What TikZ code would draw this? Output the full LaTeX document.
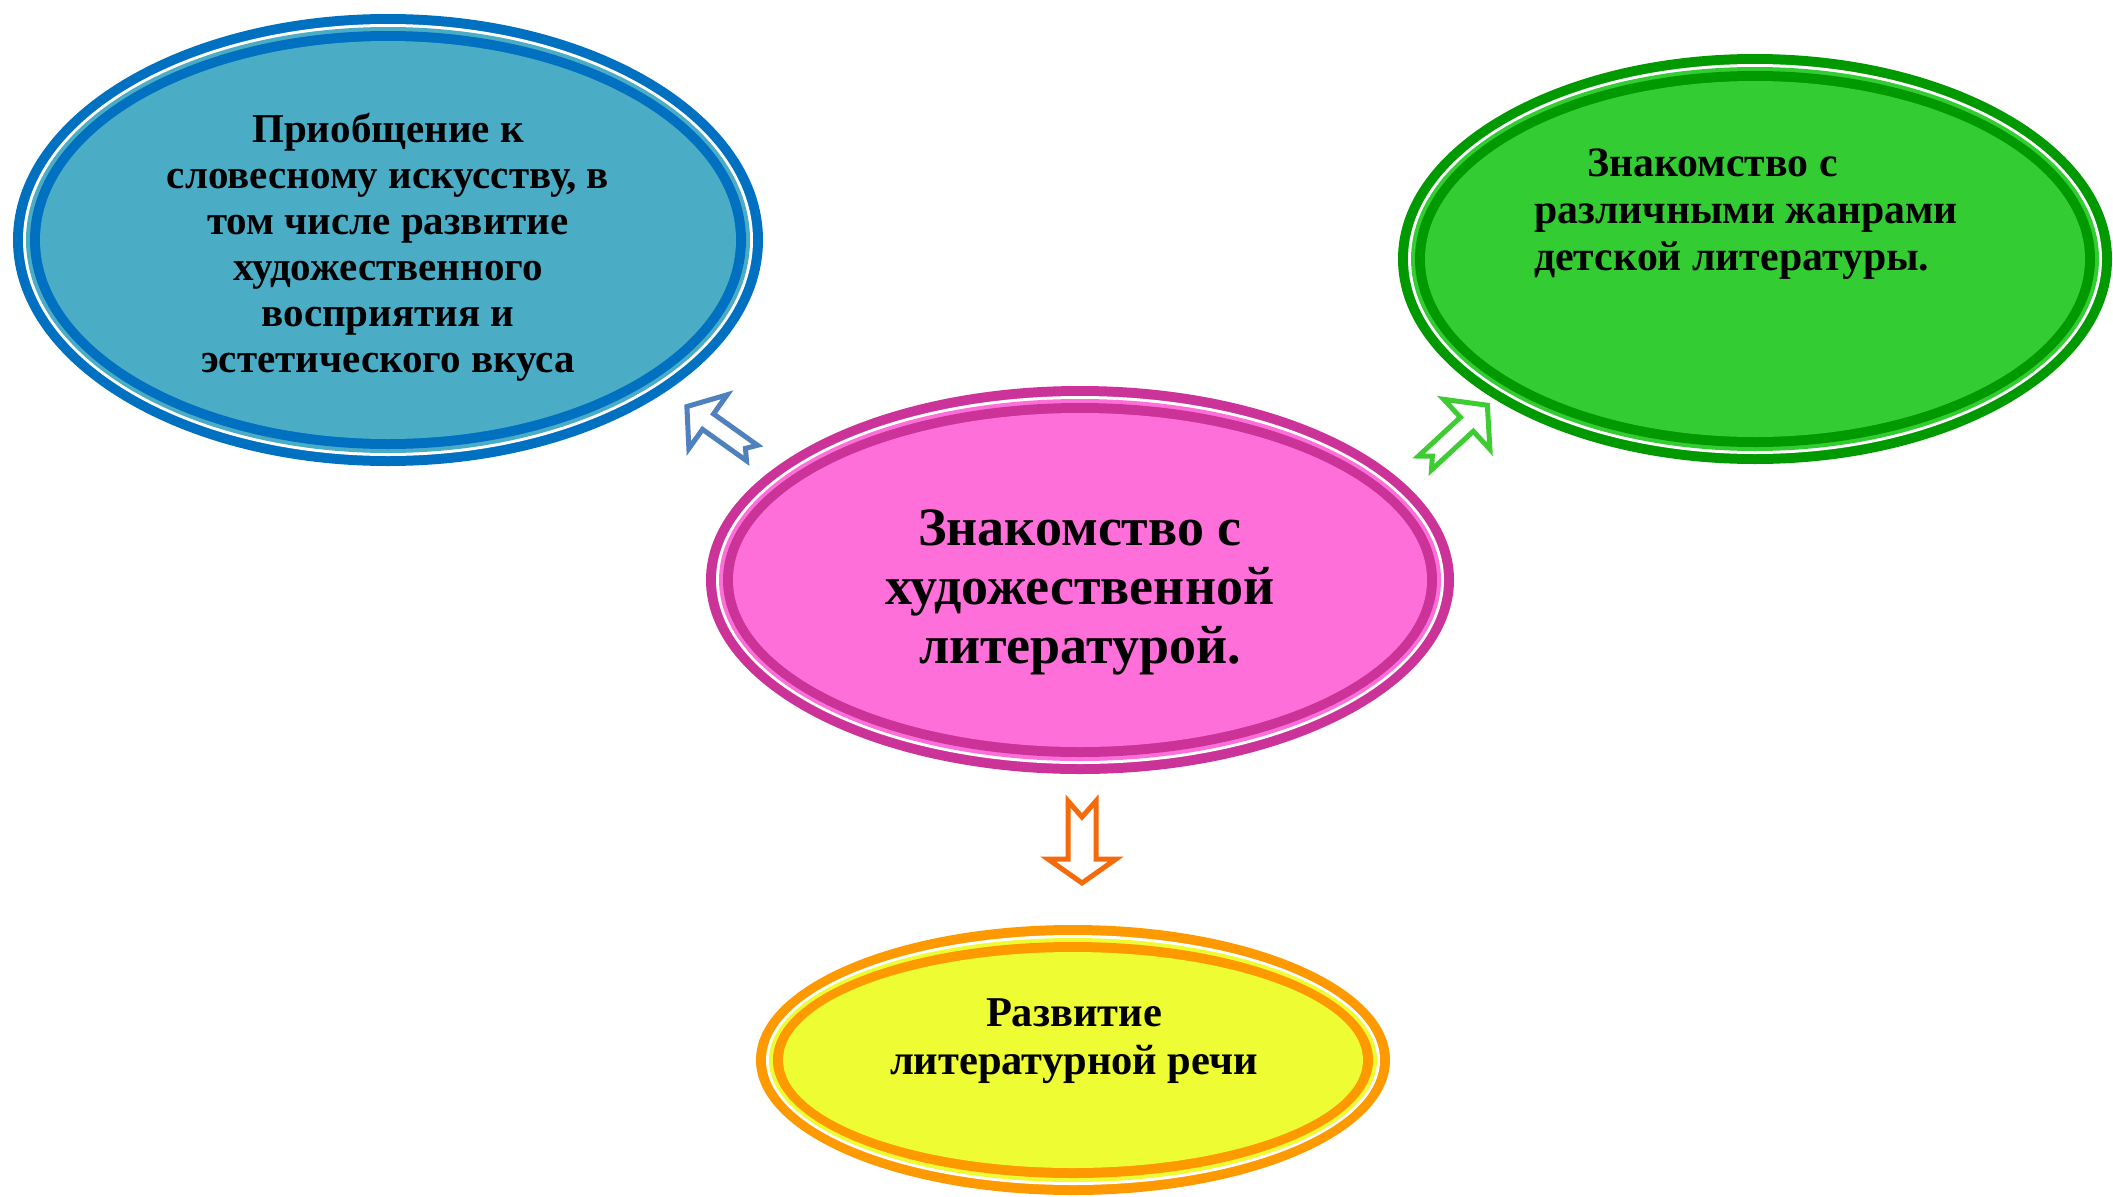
\documentclass[tikz,border=0pt]{standalone}
\usepackage{fontspec}
\setmainfont{Liberation Serif}
\usetikzlibrary{shapes.geometric}
\definecolor{bdark}{HTML}{0070C0}
\definecolor{blight}{HTML}{4BACC6}
\definecolor{gdark}{HTML}{009900}
\definecolor{glight}{HTML}{33CC33}
\definecolor{pdark}{HTML}{CC3399}
\definecolor{plight}{HTML}{FF6FD9}
\definecolor{odark}{HTML}{FF9900}
\definecolor{ylight}{HTML}{EEFC33}
\definecolor{barrow}{HTML}{4F81BD}
\definecolor{garrow}{HTML}{3ECC33}
\definecolor{oarrow}{HTML}{F56A0A}
% compound ring ellipse: cx, cy, rx, ry, dark, light
\newcommand{\ringell}[6]{%
  \fill[#5] (#1,#2) ellipse [x radius=#3, y radius=#4];
  \fill[white] (#1,#2) ellipse [x radius=#3-10, y radius=#4-10];
  \fill[#6] (#1,#2) ellipse [x radius=#3-13, y radius=#4-13];
  \fill[#5] (#1,#2) ellipse [x radius=#3-17, y radius=#4-17];
  \fill[#6] (#1,#2) ellipse [x radius=#3-27, y radius=#4-27];
}
% notched block arrow: position, angle, colour, length, shaft w, head len, head w, notch
\newcommand{\notcharrow}[8]{%
  \draw[blockarrow, draw=#3, shift={#1}, rotate=#2]
    (0,-#5/2) -- (#4-#6,-#5/2) -- (#4-#6,-#7/2) -- (#4,0) -- (#4-#6,#7/2)
    -- (#4-#6,#5/2) -- (0,#5/2) -- (#8,0) -- cycle;
}
\tikzset{
  blockarrow/.style={line width=5pt, line join=miter, fill=white},
  smalltext/.style={font=\bfseries\fontsize{41}{46}\selectfont, align=center, inner sep=0pt},
  greentext/.style={font=\bfseries\fontsize{41.8}{47}\selectfont, align=left, inner sep=0pt},
  yellowtext/.style={font=\bfseries\fontsize{42.5}{48}\selectfont, align=center, inner sep=0pt},
  bigtext/.style={font=\bfseries\fontsize{54}{59}\selectfont, align=center, inner sep=0pt},
}
\begin{document}
\begin{tikzpicture}[x=1pt, y=-1pt]
\useasboundingbox (0,0) rectangle (2113,1197);
\clip (0,0) rectangle (2113,1197);
\fill[white] (0,0) rectangle (2113,1197);
% ellipses
\ringell{388}{240}{375}{226}{bdark}{blight}
\ringell{1755}{259}{357}{205}{gdark}{glight}
\ringell{1080}{580}{374}{194}{pdark}{plight}
\ringell{1073}{1060}{317}{135}{odark}{ylight}
% texts
\node[smalltext] (blue) at (388,247) {Приобщение к\\словесному искусству, в\\том числе развитие\\художественного\\восприятия и\\эстетического вкуса};
\node[bigtext] (center) at (1080,592) {Знакомство с\\художественной\\литературой.};
\node[greentext, anchor=west] (green) at (1534,214) {\hspace*{53pt}Знакомство с\\различными жанрами\\детской литературы.};
\node[yellowtext] (yellow) at (1074,1041) {Развитие\\литературной речи};
% arrows
\notcharrow{(752,453)}{144.5}{barrow}{80}{19}{26}{66}{8}
\notcharrow{(1425,463)}{42.8}{garrow}{85}{19}{28}{68}{10}
\notcharrow{(1082,801)}{-90}{oarrow}{82}{28}{24}{68}{16}
\end{tikzpicture}
\end{document}
